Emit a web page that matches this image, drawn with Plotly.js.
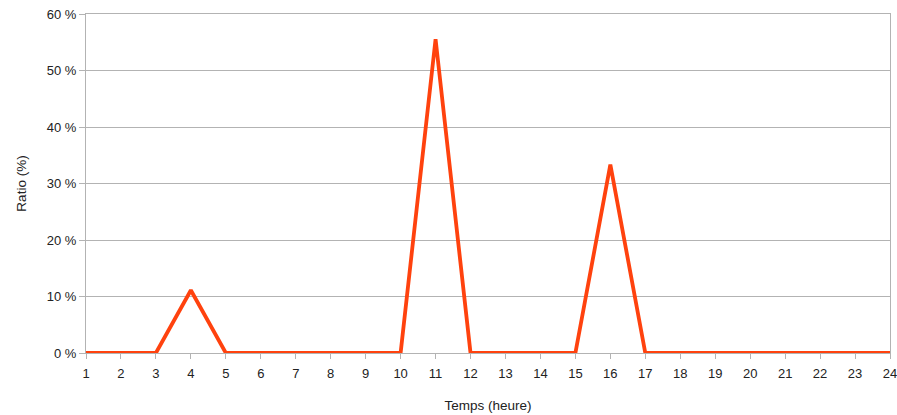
<!DOCTYPE html>
<html>
<head>
<meta charset="utf-8">
<script src="https://cdn.plot.ly/plotly-3.0.1.min.js"></script>
<style>html,body{margin:0;padding:0;background:#fff;}#chart{width:897px;height:415px;}</style>
</head>
<body>
<div id="chart"></div>
<script>
const hours = [1,2,3,4,5,6,7,8,9,10,11,12,13,14,15,16,17,18,19,20,21,22,23,24];
const ratio = [0,0,0,11.11,0,0,0,0,0,0,55.56,0,0,0,0,33.33,0,0,0,0,0,0,0,0];
const yTicks = [0,10,20,30,40,50,60];
const yTickLabels = ['0 %','10 %','20 %','30 %','40 %','50 %','60 %'];

const trace = {
  x: hours, y: ratio, type: 'scatter', mode: 'lines',
  line: {color: '#ff420e', width: 3.8},
  hoverinfo: 'none'
};
const layout = {
  width: 897, height: 415,
  margin: {l: 86, r: 7, t: 14, b: 62},
  paper_bgcolor: '#fff', plot_bgcolor: '#fff',
  font: {family: '"Liberation Sans", Arial, sans-serif', size: 13, color: '#222'},
  showlegend: false,
  xaxis: {
    range: [1, 24], tickvals: hours, ticktext: hours.map(String),
    ticklabeloverflow: 'allow', automargin: false, ticklabelstandoff: 3,
    showgrid: false, zeroline: false,
    showline: true, linecolor: '#b3b3b3', linewidth: 1, mirror: true,
    ticks: 'outside', ticklen: 5, tickcolor: '#b3b3b3', tickwidth: 1,
    tickfont: {size: 13, color: '#222'},
    title: {text: 'Temps (heure)', font: {size: 13.5, color: '#222'}, standoff: 20}
  },
  yaxis: {
    range: [0, 60], tickvals: yTicks, ticktext: yTickLabels,
    showgrid: true, gridcolor: '#b3b3b3', gridwidth: 1, zeroline: false,
    showline: true, linecolor: '#b3b3b3', linewidth: 1, mirror: true,
    ticks: 'outside', ticklen: 6, tickcolor: '#b3b3b3', tickwidth: 1,
    tickfont: {size: 13, color: '#222'},
    title: {text: 'Ratio (%)', font: {size: 13.5, color: '#222'}, standoff: 17}
  }
};
Plotly.newPlot('chart', [trace], layout, {staticPlot: true, displayModeBar: false});
</script>
</body>
</html>
